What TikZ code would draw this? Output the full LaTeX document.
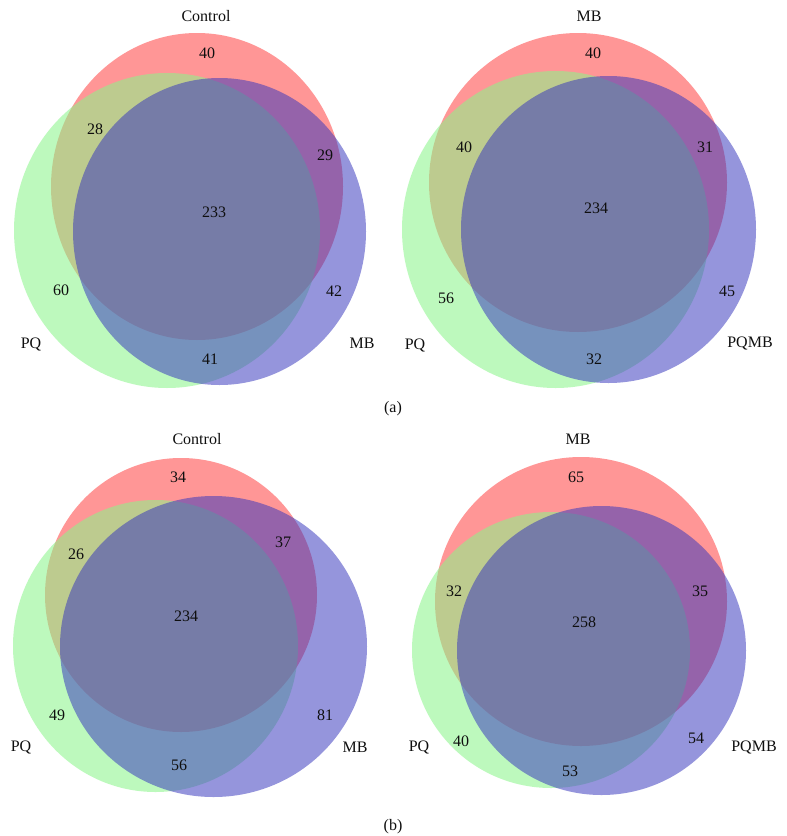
\documentclass[tikz,border=0pt]{standalone}
\usepackage{fontspec}
\setmainfont{Liberation Serif}
\definecolor{vred}{RGB}{255,0,0}
\definecolor{vgreen}{RGB}{139,246,139}
\definecolor{vblue}{RGB}{55,55,189}
\definecolor{vtext}{RGB}{15,15,15}
\begin{document}
\begin{tikzpicture}[x=1pt,y=-1pt,
  redset/.style={fill=vred,fill opacity=0.41},
  greenset/.style={fill=vgreen,fill opacity=0.56},
  blueset/.style={fill=vblue,fill opacity=0.53},
  lab/.style={font=\fontsize{16}{19}\selectfont, text=vtext, inner sep=0pt}]
\useasboundingbox (0,0) rectangle (787,836);
\fill[white] (0,0) rectangle (787,836);

% ---------- (a) Control ----------
\fill[redset]   (197,186.5) ellipse [x radius=146pt, y radius=153.5pt];
\fill[greenset] (167,230.5) ellipse [x radius=153pt, y radius=157.5pt];
\fill[blueset]  (219.5,231.5) ellipse [x radius=146.5pt, y radius=153.5pt];
\node[lab] (a1title) at (206,16) {Control};
\node[lab] (a1r)   at (207,53) {40};
\node[lab] (a1rg)  at (95,129) {28};
\node[lab] (a1rb)  at (325,155) {29};
\node[lab] (a1all) at (214,212) {233};
\node[lab] (a1g)   at (61,290) {60};
\node[lab] (a1b)   at (334,291) {42};
\node[lab] (a1pq)  at (31,344) {PQ};
\node[lab] (a1mb)  at (362,343) {MB};
\node[lab] (a1gb)  at (210,359) {41};

% ---------- (a) MB ----------
\fill[redset]   (578,182.5) ellipse [x radius=149pt, y radius=149.5pt];
\fill[greenset] (555.5,229.5) ellipse [x radius=153.5pt, y radius=158.5pt];
\fill[blueset]  (608.5,229.5) ellipse [x radius=147.5pt, y radius=153.5pt];
\node[lab] (a2title) at (589,16) {MB};
\node[lab] (a2r)   at (593,53) {40};
\node[lab] (a2rg)  at (464,147) {40};
\node[lab] (a2rb)  at (705,147) {31};
\node[lab] (a2all) at (596,208) {234};
\node[lab] (a2g)   at (446,298) {56};
\node[lab] (a2b)   at (727,291) {45};
\node[lab] (a2pq)  at (415,345) {PQ};
\node[lab] (a2pqmb) at (750,343) {PQMB};
\node[lab] (a2gb)  at (594,359) {32};

\node[lab] (capa) at (393,409) {(a)};

% ---------- (b) Control ----------
\fill[redset]   (181,595) ellipse [x radius=136pt, y radius=137pt];
\fill[greenset] (155.5,646) ellipse [x radius=142.5pt, y radius=146pt];
\fill[blueset]  (213.5,646.5) ellipse [x radius=153.5pt, y radius=150.5pt];
\node[lab] (b1title) at (197,439) {Control};
\node[lab] (b1r)   at (178,477) {34};
\node[lab] (b1rg)  at (76,554) {26};
\node[lab] (b1rb)  at (283,542) {37};
\node[lab] (b1all) at (186,616) {234};
\node[lab] (b1g)   at (57,715) {49};
\node[lab] (b1b)   at (325,715) {81};
\node[lab] (b1pq)  at (21,747) {PQ};
\node[lab] (b1mb)  at (355,747) {MB};
\node[lab] (b1gb)  at (179,765) {56};

% ---------- (b) MB ----------
\fill[redset]   (581,601.5) ellipse [x radius=146pt, y radius=144.5pt];
\fill[greenset] (551,650) ellipse [x radius=139pt, y radius=138pt];
\fill[blueset]  (601.5,650.5) ellipse [x radius=144.5pt, y radius=144.5pt];
\node[lab] (b2title) at (578,439) {MB};
\node[lab] (b2r)   at (576,477) {65};
\node[lab] (b2rg)  at (454,591) {32};
\node[lab] (b2rb)  at (700,591) {35};
\node[lab] (b2all) at (584,622) {258};
\node[lab] (b2g)   at (461,741) {40};
\node[lab] (b2b)   at (696,738) {54};
\node[lab] (b2pq)  at (419,747) {PQ};
\node[lab] (b2pqmb) at (754,747) {PQMB};
\node[lab] (b2gb)  at (570,771) {53};

\node[lab] (capb) at (393,827) {(b)};
\end{tikzpicture}
\end{document}
